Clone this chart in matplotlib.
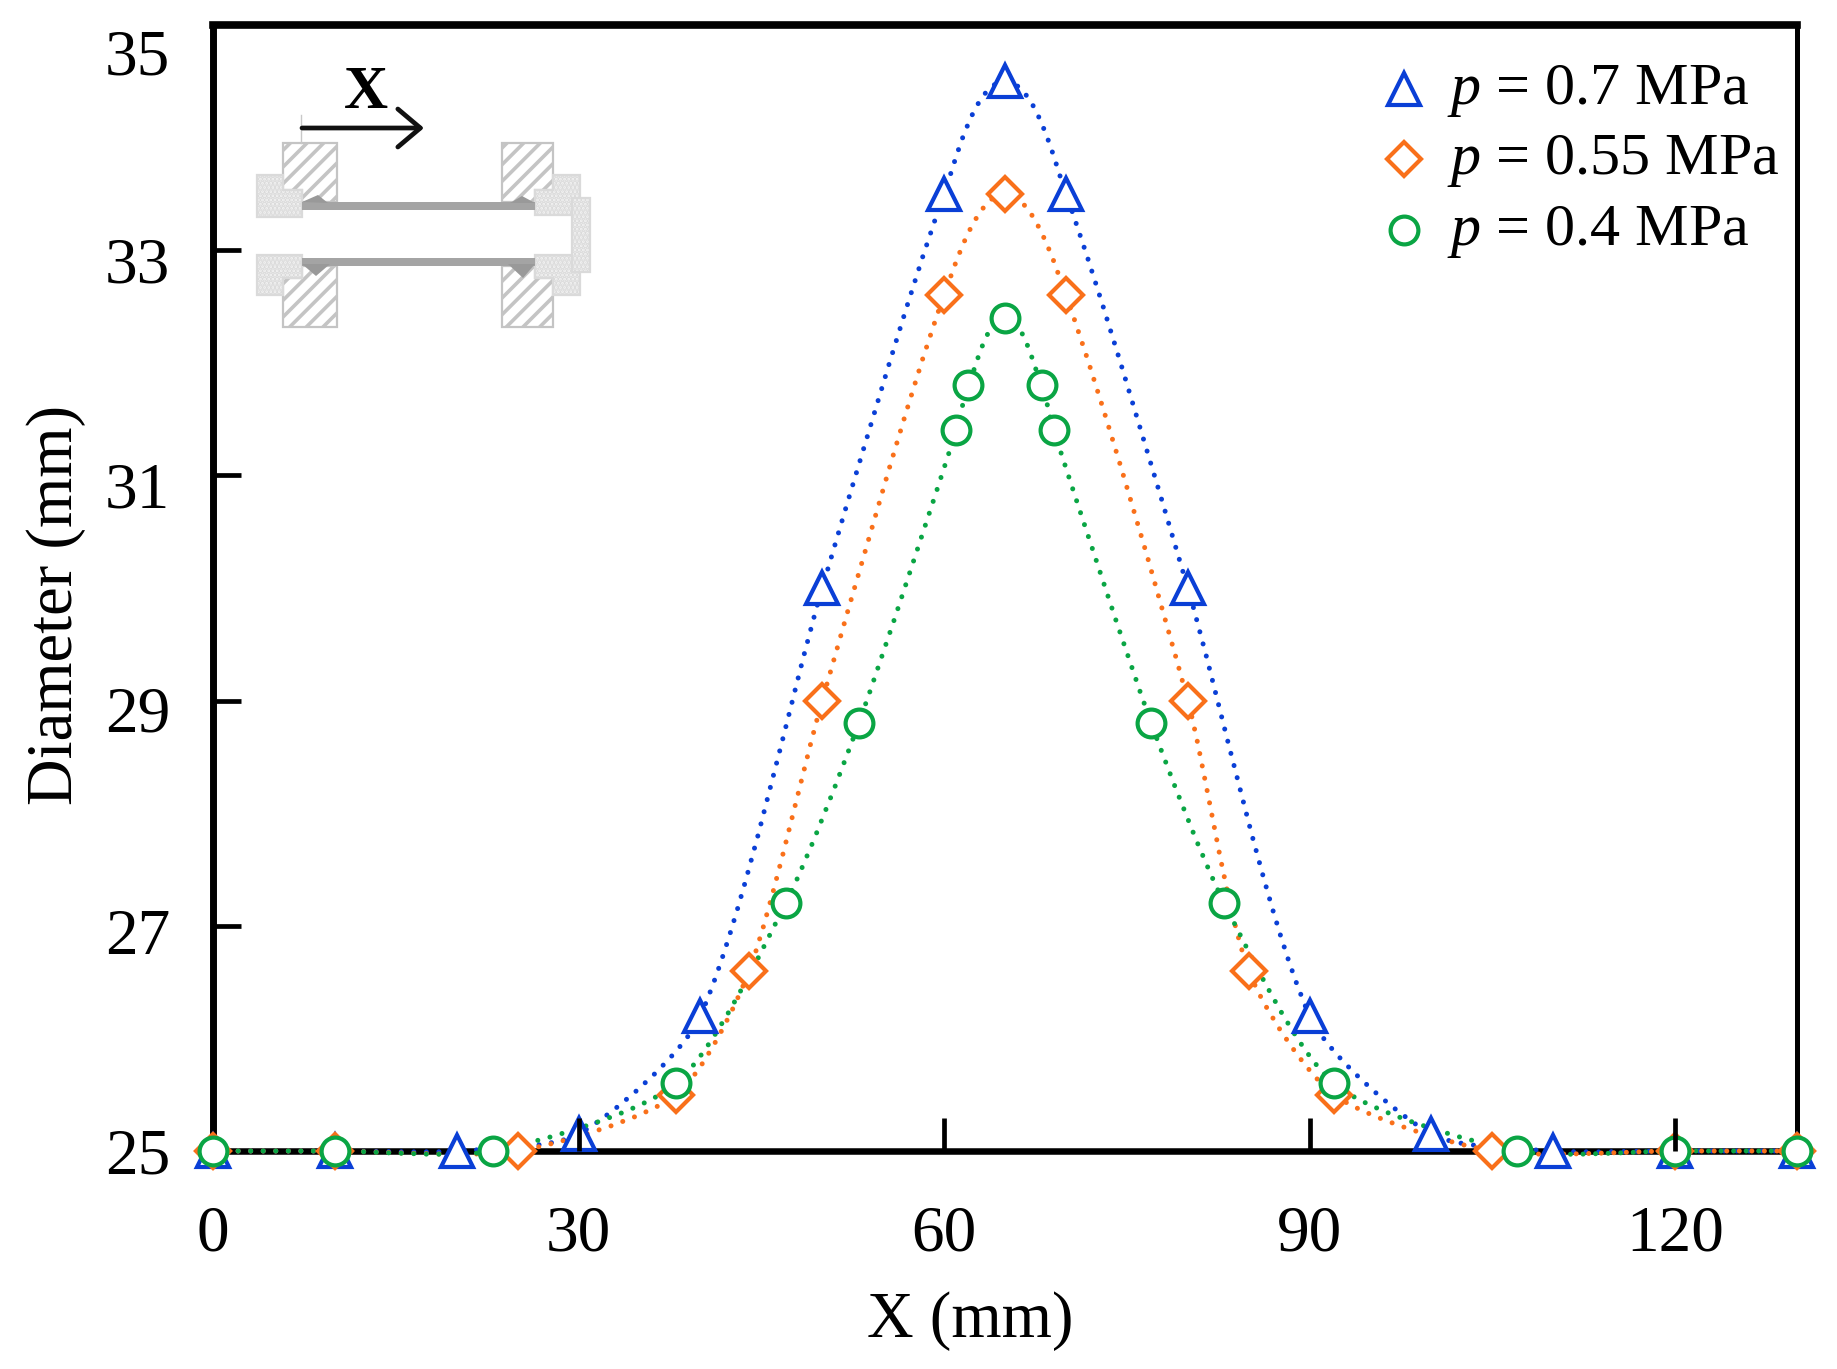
import numpy as np
import matplotlib
matplotlib.use("Agg")
import matplotlib.pyplot as plt
from matplotlib.path import Path
from matplotlib.patches import PathPatch, Polygon, Rectangle
from matplotlib.transforms import ScaledTranslation

plt.rcParams['font.family'] = ['Liberation Serif', 'DejaVu Serif']
plt.rcParams['mathtext.fontset'] = 'custom'
plt.rcParams['mathtext.it'] = 'Liberation Serif:italic'
plt.rcParams['mathtext.rm'] = 'Liberation Serif'
plt.rcParams['hatch.linewidth'] = 2.6

x_07 = [0, 10, 20, 30, 40, 50, 60, 65, 70, 80, 90, 100, 110, 120, 130]
y_07 = [25, 25, 25, 25.15, 26.2, 30, 33.5, 34.5, 33.5, 30, 26.2, 25.15, 25, 25, 25]
x_055 = [0, 10, 25, 38, 44, 50, 60, 65, 70, 80, 85, 92, 105, 120, 130]
y_055 = [25, 25, 25, 25.5, 26.6, 29, 32.6, 33.5, 32.6, 29, 26.6, 25.5, 25, 25, 25]
x_04 = [0, 10, 23, 38, 47, 53, 61, 62, 65, 68, 69, 77, 83, 92, 107, 120, 130]
y_04 = [25, 25, 25, 25.6, 27.2, 28.8, 31.4, 31.8, 32.4, 31.8, 31.4, 28.8, 27.2, 25.6, 25, 25, 25]

labels = [r'$p$ = 0.7 MPa', r'$p$ = 0.55 MPa', r'$p$ = 0.4 MPa']
colors = ['#0a3fd6', '#f9701a', '#0aa544']
x_ticks = [0, 30, 60, 90, 120]
y_ticks = [25, 27, 29, 31, 33, 35]

W, H = 1837, 1369
fig = plt.figure(figsize=(W / 100, H / 100), dpi=100, facecolor='white')
L, R, T, B = 213, 1797, 25, 1151
ax = fig.add_axes([L / W, 1 - B / H, (R - L) / W, (B - T) / H])
ax.set_xlim(0, 130)
ax.set_ylim(25, 35)
ax.patch.set_alpha(0)
ax.set_zorder(3)


def smooth_path(xs, ys, arm=0.24):
    """Smooth Bezier through the points, with control points set in pixel proportions."""
    sx, sy = (R - L) / 130.0, (B - T) / 10.0
    p = np.column_stack([np.array(xs, float) * sx, np.array(ys, float) * sy])
    n = len(p)
    verts, codes = [p[0]], [Path.MOVETO]
    tang = np.zeros_like(p)
    for i in range(n):
        a, b = p[max(i - 1, 0)], p[min(i + 1, n - 1)]
        d = b - a
        tang[i] = d / np.hypot(*d)
    for i in range(n - 1):
        seg = np.hypot(*(p[i + 1] - p[i]))
        verts += [p[i] + tang[i] * seg * arm, p[i + 1] - tang[i + 1] * seg * arm, p[i + 1]]
        codes += [Path.CURVE4] * 3
    v = np.array(verts) / [sx, sy]
    return Path(v, codes)


series = [(x_07, y_07, '^', 23.5), (x_055, y_055, 'D', 17.5), (x_04, y_04, 'o', 20)]
for (xs, ys, mk, ms), c, lab in zip(series, colors, labels):
    ax.add_patch(PathPatch(smooth_path(xs, ys), fill=False, edgecolor=c, lw=3.6,
                           linestyle=(0, (0.01, 2.5)), capstyle='round', zorder=2,
                           clip_on=False))
    ax.plot(xs, ys, ls='none', marker=mk, ms=ms, mfc='white', mec=c, mew=3.0,
            label=lab, clip_on=False, zorder=3)

for s, w in zip(['top', 'left', 'bottom', 'right'], [5.5, 5, 4.7, 3.6]):
    ax.spines[s].set_linewidth(w)
    ax.spines[s].set_zorder(1)
ax.xaxis.set_zorder(5)
ax.yaxis.set_zorder(5)

ax.set_xticks(x_ticks)
ax.set_yticks(y_ticks)
ax.tick_params(axis='x', direction='in', length=24, width=3.4, pad=39, labelsize=47)
ax.tick_params(axis='y', direction='in', length=20, width=3.4, pad=31, labelsize=47)
ax.xaxis.get_major_ticks()[0].tick1line.set_visible(False)
ax.yaxis.get_major_ticks()[0].tick1line.set_visible(False)
ax.yaxis.get_major_ticks()[-1].tick1line.set_visible(False)
# The reference's y labels sit a little below their ticks, most of all the top one
for tick, down in zip(ax.yaxis.get_major_ticks(), [0, 5, 8, 9, 10, 27]):
    tick.label1.set_transform(tick.label1.get_transform() +
                              ScaledTranslation(0, -down / 100, fig.dpi_scale_trans))
ax.set_xlabel('X (mm)', fontsize=46.5)
ax.set_ylabel('Diameter (mm)', fontsize=46.5)
ax.xaxis.set_label_coords((970 - L) / (R - L), -(1291 - B) / (B - T), transform=ax.transAxes)
ax.yaxis.set_label_coords(-(L - 86) / (R - L), (B - 605) / (B - T), transform=ax.transAxes)

leg = ax.legend(loc='upper left', bbox_to_anchor=((1374 - L) / (R - L), 1 - (62 - T) / (B - T)),
                frameon=False, fontsize=43.3, borderpad=0, borderaxespad=0, handlelength=1,
                handletextpad=0.22, labelspacing=0.22)
for h in leg.legend_handles:
    h.set_ydata(np.array(h.get_ydata()) - 4.3)

# Inset schematic, drawn in pixel coordinates
ins = fig.add_axes([0, 0, 1, 1])
ins.set_xlim(0, W)
ins.set_ylim(H, 0)
ins.axis('off')
ins.patch.set_alpha(0)
ins.set_zorder(2)
hatched = [
    [(283, 143), (337, 143), (337, 202), (302, 202), (302, 190), (283, 190)],
    [(502, 143), (553, 143), (553, 190), (535, 190), (535, 202), (502, 202)],
    [(283, 278), (302, 278), (302, 266), (337, 266), (337, 327), (283, 327)],
    [(502, 266), (535, 266), (535, 278), (553, 278), (553, 327), (502, 327)],
]
stippled = [
    [(257, 175), (283, 175), (283, 190), (302, 190), (302, 217), (257, 217)],
    [(553, 175), (580, 175), (580, 215), (535, 215), (535, 190), (553, 190)],
    [(257, 255), (302, 255), (302, 278), (283, 278), (283, 295), (257, 295)],
    [(535, 255), (580, 255), (580, 295), (553, 295), (553, 278), (535, 278)],
    [(572, 198), (590, 198), (590, 272), (572, 272)],
]
for pts in hatched:
    ins.add_patch(Polygon(pts, closed=True, facecolor='white', edgecolor='#c4c4c4', hatch='//', lw=1.6))
for pts in stippled:
    ins.add_patch(Polygon(pts, closed=True, facecolor='#f2f2f2', edgecolor='#dadada', hatch='....',
                          lw=1.6))
for y0, y1 in [(202, 210), (258, 266)]:
    ins.add_patch(Rectangle((302, y0), 233, y1 - y0, facecolor='#a4a4a4', edgecolor='none'))
for pts in [[(302, 202), (318, 195), (328, 203)], [(510, 203), (522, 196), (535, 203)],
            [(302, 264), (330, 264), (316, 276)], [(508, 264), (535, 264), (523, 278)]]:
    ins.add_patch(Polygon(pts, closed=True, facecolor='#999999', edgecolor='none'))
ins.plot([301, 301], [115, 143], color='#c8c8c8', lw=1)
ins.annotate('', xy=(424, 128), xytext=(302, 128),
             arrowprops=dict(arrowstyle='->,head_length=0.45,head_width=0.38', lw=3.4,
                             color='#111111', mutation_scale=36, shrinkA=0, shrinkB=0))
ins.text(366, 93, 'X', fontsize=44, fontweight='bold', ha='center', va='center', color='black')

fig.savefig('out.png', dpi=100, facecolor='white')
